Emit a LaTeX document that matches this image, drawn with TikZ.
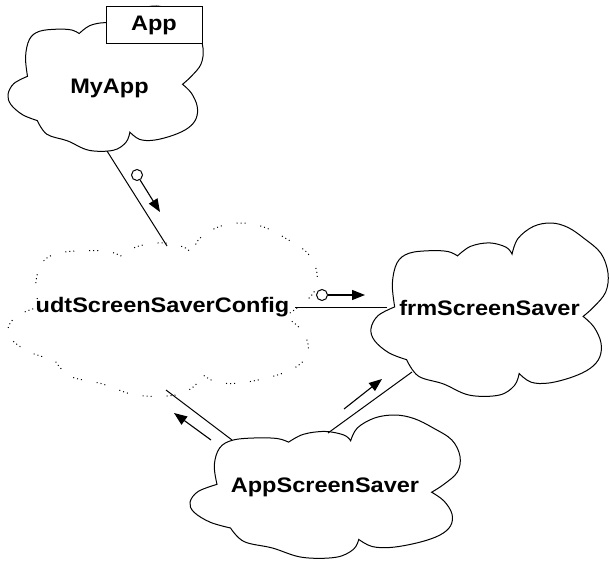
\documentclass[tikz,border=0pt]{standalone}
\usepackage{fontspec}
\setmainfont{Liberation Sans}
\usetikzlibrary{arrows.meta}

\newcommand{\objtext}[1]{\scalebox{1.12}[1]{#1}}

% one Booch cloud, unit size, centred on the origin
\tikzset{
  boochcloud/.pic={
    \draw plot[smooth, tension=0.6] coordinates {(-0.80,-0.03) (-0.82,-0.30) (-0.78,-0.54) (-0.68,-0.65) (-0.50,-0.68) (-0.35,-0.67) (-0.27,-0.62)}
      -- plot[smooth, tension=0.6] coordinates {(-0.27,-0.62) (-0.16,-0.73) (0,-0.77) (0.14,-0.72) (0.19,-0.64)}
      -- plot[smooth, tension=0.6] coordinates {(0.19,-0.64) (0.24,-0.82) (0.37,-0.96) (0.52,-1.00) (0.66,-0.95) (0.80,-0.82) (0.94,-0.65) (1.00,-0.42) (0.98,-0.20) (0.88,-0.03) (0.79,0.08)}
      -- plot[smooth, tension=0.6] coordinates {(0.79,0.08) (0.88,0.20) (0.94,0.38) (0.93,0.55) (0.85,0.68) (0.70,0.78) (0.50,0.85) (0.35,0.84) (0.25,0.74)}
      -- plot[smooth, tension=0.6] coordinates {(0.25,0.74) (0.21,0.88) (0.08,0.99) (-0.17,0.99) (-0.39,0.86) (-0.60,0.77) (-0.70,0.58)}
      -- plot[smooth, tension=0.6] coordinates {(-0.70,0.58) (-0.85,0.50) (-0.97,0.36) (-1.00,0.22) (-0.94,0.07) (-0.80,-0.03)}
      -- cycle;
  }
}

\begin{document}
\begin{tikzpicture}[x=1pt, y=-1pt, line width=1pt,
    objname/.style={font=\bfseries\fontsize{21}{23}\selectfont, inner sep=0pt},
    tagbox/.style={draw, fill=white, minimum width=96pt, minimum height=37pt,
      inner sep=0pt, font=\bfseries\fontsize{21}{23}\selectfont},
    utility/.style={dash pattern=on 1pt off 3pt on 1pt off 3pt on 1pt off 15pt},
    dataflow/.style={circle, draw, minimum size=11pt, inner sep=0pt},
    message/.style={line width=1.1pt, -{Triangle[length=13pt,width=10pt]}}]
  \useasboundingbox (0,0) rectangle (609,561);

  % clouds
  \pic[xscale=97.5, yscale=72.5] at (105.5,78.5) {boochcloud};
  \pic[utility, xscale=154.5, yscale=86.5] at (162.5,309.5) {boochcloud};
  \pic[xscale=118.5, yscale=86.5] at (489.5,309.5) {boochcloud};
  \pic[xscale=135, yscale=71.5] at (325,486.5) {boochcloud};

  % objects
  \node[objname] (myapp) at (109.5,88.5) {\objtext{MyApp}};
  \node[tagbox] (apptag) at (154,25.5) {\objtext{App}};
  \node[objname] (udt) at (162.5,307.5) {\objtext{udtScreenSaverConfig}};
  \node[objname] (frm) at (489.5,307.5) {\objtext{frmScreenSaver}};
  \node[objname] (appss) at (325,487) {\objtext{AppScreenSaver}};

  % links
  \draw ([shift={(-2.5,62.5)}]myapp.center) -- ([shift={(4.5,-61.5)}]udt.center);
  \draw ([xshift=5pt]udt.east) -- ([xshift=-12pt]frm.west);
  \draw ([shift={(-93,-47)}]appss.center) -- ([shift={(3.5,82.5)}]udt.center);
  \draw ([shift={(3,-54)}]appss.center) -- ([shift={(-77.5,64.5)}]frm.center);

  % messages
  \node[dataflow] (flowa) at (137,175) {};
  \coordinate (flowa-end) at (160,212);
  \draw[message] (flowa) -- (flowa-end);

  \node[dataflow] (flowb) at (322,295) {};
  \coordinate (flowb-end) at (365,295);
  \draw[message] (flowb) -- (flowb-end);

  \coordinate (msgc-start) at (211,440);
  \coordinate (msgc-end) at (174,413);
  \draw[message] (msgc-start) -- (msgc-end);

  \coordinate (msgd-start) at (344,409);
  \coordinate (msgd-end) at (382,379);
  \draw[message] (msgd-start) -- (msgd-end);
\end{tikzpicture}
\end{document}
